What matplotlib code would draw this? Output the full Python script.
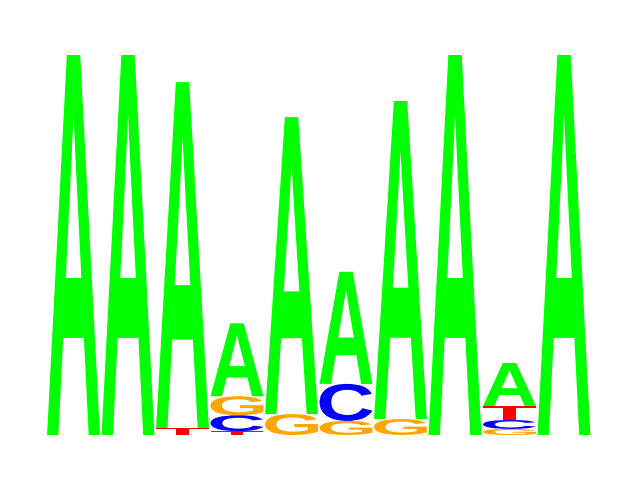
import matplotlib
matplotlib.use("Agg")
import matplotlib.pyplot as plt
from matplotlib.textpath import TextPath
from matplotlib.patches import PathPatch
from matplotlib.font_manager import FontProperties
from matplotlib.transforms import Affine2D

# Letras empilhadas de baixo para cima em cada posição (altura em bits)
posicoes = list(range(1, 11))
letras = [
    ["A"],
    ["A"],
    ["T", "A"],
    ["T", "C", "G", "A"],
    ["G", "A"],
    ["G", "C", "A"],
    ["G", "A"],
    ["A"],
    ["G", "C", "T", "A"],
    ["A"],
]
alturas = [
    [2.0],
    [2.0],
    [0.037, 1.82],
    [0.02, 0.084, 0.10, 0.384],
    [0.11, 1.563],
    [0.074, 0.195, 0.59],
    [0.084, 1.674],
    [2.0],
    [0.032, 0.047, 0.074, 0.226],
    [2.0],
]

cores = {"A": "#00ff00", "C": "#0000ff", "G": "#ffa500", "T": "#ff0000"}
fonte = FontProperties(family="Liberation Sans", weight="bold")

fig = plt.figure(figsize=(6.4, 4.8), dpi=100)
ax = fig.add_axes([0, 0, 1, 1])

largura = 0.97
for pos, lets, hs in zip(posicoes, letras, alturas):
    base = 0.0
    for letra, h in zip(lets, hs):
        tp = TextPath((0, 0), letra, size=1, prop=fonte)
        bb = tp.get_extents()
        tr = (Affine2D()
              .translate(-bb.x0, -bb.y0)
              .scale(largura / bb.width, h / bb.height)
              .translate(pos - largura / 2, base))
        ax.add_patch(PathPatch(tr.transform_path(tp), facecolor=cores[letra],
                               edgecolor="none", lw=0))
        base += h

passo = 54.5
ax.set_xlim(1 - 73.5 / passo, 1 + (640 - 73.5) / passo)
ax.set_ylim(-45 / 190, 435 / 190)
ax.axis("off")

fig.savefig("out.png", dpi=100, facecolor="white")
